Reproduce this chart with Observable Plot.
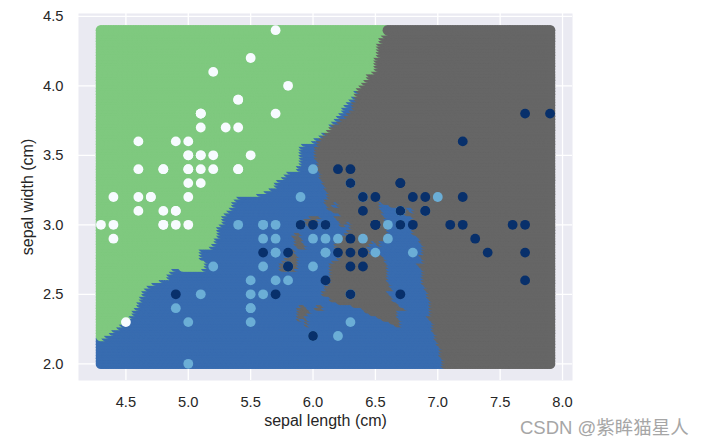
<!DOCTYPE html>
<html><head>
<meta charset="utf-8">
<script src="https://cdn.jsdelivr.net/npm/d3@7"></script>
<script src="https://cdn.jsdelivr.net/npm/@observablehq/plot@0.6"></script>
<style>
body{margin:0;background:#fff}
#wrap{position:relative;width:706px;height:447px;overflow:hidden}
#wm{position:absolute;left:520px;top:416px;font-family:"Liberation Sans","Noto Sans CJK SC",sans-serif;font-size:18.5px;color:#a6a6a6;white-space:nowrap;line-height:24px}
</style>
</head><body><div id="wrap"><div id="chart"></div><div id="wm">CSDN @紫眸猫星人</div></div>
<script>
// Iris data: sepal length / sepal width (cm) and species index (0 setosa, 1 versicolor, 2 virginica)
const sepalLength=[5.1,4.9,4.7,4.6,5.0,5.4,4.6,5.0,4.4,4.9,5.4,4.8,4.8,4.3,5.8,5.7,5.4,5.1,5.7,5.1,5.4,5.1,4.6,5.1,4.8,5.0,5.0,5.2,5.2,4.7,4.8,5.4,5.2,5.5,4.9,5.0,5.5,4.9,4.4,5.1,5.0,4.5,4.4,5.0,5.1,4.8,5.1,4.6,5.3,5.0,
7.0,6.4,6.9,5.5,6.5,5.7,6.3,4.9,6.6,5.2,5.0,5.9,6.0,6.1,5.6,6.7,5.6,5.8,6.2,5.6,5.9,6.1,6.3,6.1,6.4,6.6,6.8,6.7,6.0,5.7,5.5,5.5,5.8,6.0,5.4,6.0,6.7,6.3,5.6,5.5,5.5,6.1,5.8,5.0,5.6,5.7,5.7,6.2,5.1,5.7,
6.3,5.8,7.1,6.3,6.5,7.6,4.9,7.3,6.7,7.2,6.5,6.4,6.8,5.7,5.8,6.4,6.5,7.7,7.7,6.0,6.9,5.6,7.7,6.3,6.7,7.2,6.2,6.1,6.4,7.2,7.4,7.9,6.4,6.3,6.1,7.7,6.3,6.4,6.0,6.9,6.7,6.9,5.8,6.8,6.7,6.7,6.3,6.5,6.2,5.9];
const sepalWidth=[3.5,3.0,3.2,3.1,3.6,3.9,3.4,3.4,2.9,3.1,3.7,3.4,3.0,3.0,4.0,4.4,3.9,3.5,3.8,3.8,3.4,3.7,3.6,3.3,3.4,3.0,3.4,3.5,3.4,3.2,3.1,3.4,4.1,4.2,3.1,3.2,3.5,3.6,3.0,3.4,3.5,2.3,3.2,3.5,3.8,3.0,3.8,3.2,3.7,3.3,
3.2,3.2,3.1,2.3,2.8,2.8,3.3,2.4,2.9,2.7,2.0,3.0,2.2,2.9,2.9,3.1,3.0,2.7,2.2,2.5,3.2,2.8,2.5,2.8,2.9,3.0,2.8,3.0,2.9,2.6,2.4,2.4,2.7,2.7,3.0,3.4,3.1,2.3,3.0,2.5,2.6,3.0,2.6,2.3,2.7,3.0,2.9,2.9,2.5,2.8,
3.3,2.7,3.0,2.9,3.0,3.0,2.5,2.9,2.5,3.6,3.2,2.7,3.0,2.5,2.8,3.2,3.0,3.8,2.6,2.2,3.2,2.8,2.8,2.7,3.3,3.2,2.8,3.0,2.8,3.0,2.8,3.8,2.8,2.8,2.6,3.0,3.4,3.1,3.0,3.1,3.1,3.1,2.7,3.2,3.3,3.0,2.5,3.0,3.4,3.0];
const speciesCounts=[50,50,50];
const xTicks=[4.5,5.0,5.5,6.0,6.5,7.0,7.5,8.0];
const yTicks=[2.0,2.5,3.0,3.5,4.0,4.5];
const xLabel="sepal length (cm)";
const yLabel="sepal width (cm)";
const nNeighbors=5;      // KNN classifier, uniform weights
const meshStep=0.02;

// colours (Accent colormap for regions, Blues colormap for points)
const regionColors=["#7fc97f","#386cb0","#666666"];
const pointColors=["#f7fbff","#6baed6","#08306b"];

const target=[];speciesCounts.forEach((n,c)=>{for(let i=0;i<n;i++)target.push(c);});
const points=sepalLength.map((x,i)=>({x,y:sepalWidth[i],c:target[i]}));

function predict(x,y){
  const d=points.map((p,i)=>[Math.hypot(p.x-x,p.y-y),p.c,i]);
  d.sort((a,b)=>a[0]-b[0]||a[2]-b[2]);
  const votes=[0,0,0];
  for(let j=0;j<nNeighbors;j++) votes[d[j][1]]++;
  let best=0; for(let c=1;c<3;c++) if(votes[c]>votes[best]) best=c;
  return best;
}
const xMin=d3.min(sepalLength),xMax=d3.max(sepalLength),yMin=d3.min(sepalWidth),yMax=d3.max(sepalWidth);
const nx=Math.round((xMax-xMin)/meshStep),ny=Math.round((yMax-yMin)/meshStep);
const mesh=[];
for(let j=0;j<=ny;j++){const y=yMin+j*meshStep;
  for(let i=0;i<=nx;i++){const x=xMin+i*meshStep; mesh.push({x,y,c:predict(x,y)});}}

const fmt=d3.format(".1f");
const chart=Plot.plot({
  width:706,height:447,
  marginLeft:78,marginRight:134,marginTop:13,marginBottom:67,
  style:{fontFamily:"'Liberation Sans',Arial,sans-serif",color:"#262626",background:"white",overflow:"visible"},
  x:{domain:[4.12,8.08]},
  y:{domain:[1.88,4.52]},
  marks:[
    Plot.frame({fill:"#eaeaf2",stroke:null}),
    Plot.gridX(xTicks,{stroke:"white",strokeOpacity:1,strokeWidth:1.3}),
    Plot.gridY(yTicks,{stroke:"white",strokeOpacity:1,strokeWidth:1.3}),
    Plot.axisX(xTicks,{tickSize:0,tickPadding:16,tickFormat:fmt,fontSize:14.7,label:null}),
    Plot.axisY(yTicks,{tickSize:0,tickPadding:15,tickFormat:fmt,fontSize:14.7,label:null}),
    Plot.dot(mesh,{x:"x",y:"y",r:5.3,fill:d=>regionColors[d.c],stroke:null}),
    Plot.dot(points,{x:"x",y:"y",r:4.9,fill:d=>pointColors[d.c],stroke:null}),
    Plot.text([xLabel],{text:d=>d,frameAnchor:"bottom",textAnchor:"middle",lineAnchor:"middle",dy:40,fontSize:16,fill:"#262626"}),
    Plot.text([yLabel],{text:d=>d,frameAnchor:"left",textAnchor:"middle",lineAnchor:"middle",dx:-51,rotate:-90,fontSize:16,fill:"#262626"})
  ]
});
document.getElementById("chart").appendChild(chart);
</script></body></html>
